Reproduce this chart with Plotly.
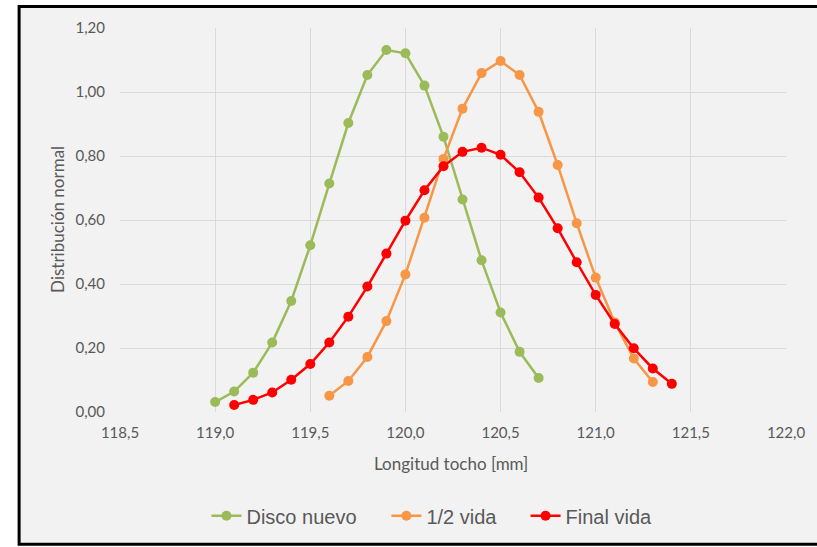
import plotly.graph_objects as go

# Data
x_nuevo = [119.0, 119.1, 119.2, 119.3, 119.4, 119.5, 119.6, 119.7, 119.8, 119.9,
           120.0, 120.1, 120.2, 120.3, 120.4, 120.5, 120.6, 120.7]
y_nuevo = [0.031, 0.064, 0.123, 0.217, 0.347, 0.521, 0.714, 0.903, 1.053, 1.131,
           1.121, 1.020, 0.860, 0.664, 0.474, 0.311, 0.188, 0.106]

x_media = [119.6, 119.7, 119.8, 119.9, 120.0, 120.1, 120.2, 120.3, 120.4, 120.5,
           120.6, 120.7, 120.8, 120.9, 121.0, 121.1, 121.2, 121.3]
y_media = [0.051, 0.097, 0.172, 0.284, 0.430, 0.607, 0.791, 0.948, 1.059, 1.097,
           1.053, 0.938, 0.772, 0.590, 0.420, 0.280, 0.167, 0.094]

x_final = [119.1, 119.2, 119.3, 119.4, 119.5, 119.6, 119.7, 119.8, 119.9, 120.0,
           120.1, 120.2, 120.3, 120.4, 120.5, 120.6, 120.7, 120.8, 120.9, 121.0,
           121.1, 121.2, 121.3, 121.4]
y_final = [0.022, 0.038, 0.061, 0.101, 0.150, 0.217, 0.298, 0.392, 0.495, 0.598,
           0.693, 0.768, 0.813, 0.826, 0.804, 0.749, 0.670, 0.574, 0.468, 0.366,
           0.275, 0.199, 0.136, 0.088]

series_names = ["Disco nuevo", "1/2 vida", "Final vida"]
series_colors = ["#9BBB59", "#F79646", "#FF0000"]
x_ticks = [118.5, 119.0, 119.5, 120.0, 120.5, 121.0, 121.5, 122.0]
y_ticks = [0, 0.2, 0.4, 0.6, 0.8, 1.0, 1.2]

x_title = "Longitud tocho [mm]"
y_title = "Distribución normal"

# layout helpers (pixel -> paper)
L, R, T, B = 120, 790, 28, 413
def px(xp):
    return (xp - L) / (R - L)
def py(yp):
    return (B - yp) / (B - T)

legend_ids = ["legend", "legend2", "legend3"]
legend_left = [207, 388, 528]

fig = go.Figure()
for name, xs, ys, col, lid in zip(series_names, [x_nuevo, x_media, x_final],
                                  [y_nuevo, y_media, y_final], series_colors, legend_ids):
    fig.add_trace(go.Scatter(x=xs, y=ys, name=name, mode="lines+markers",
                             line=dict(color=col, width=2.5),
                             marker=dict(color=col, size=10), legend=lid))

tick_font = dict(family="Lato", size=15, color="#595959")
title_font = dict(family="Lato", size=17, color="#595959")
legend_font = dict(family="Liberation Sans", size=20, color="#595959")

legends = {}
for lid, left in zip(legend_ids, legend_left):
    legends[lid] = dict(orientation="h", x=px(left), xanchor="left", y=py(517),
                        yanchor="middle", font=legend_font, bgcolor="rgba(0,0,0,0)",
                        borderwidth=0)

fig.update_layout(
    width=817, height=547,
    separators=", ",
    paper_bgcolor="white",
    plot_bgcolor="#F2F2F2",
    margin=dict(l=L, r=817 - R, t=T, b=547 - B),
    showlegend=True,
    xaxis=dict(range=[118.5, 122.0], tickvals=x_ticks,
               tickformat=".1f", showgrid=True, gridcolor="#D9D9D9", gridwidth=1,
               zeroline=False, showline=False, tickfont=tick_font, ticks="",
               ticklabelstandoff=10),
    yaxis=dict(range=[0, 1.2], tickvals=y_ticks,
               tickformat=".2f", showgrid=True, gridcolor="#D9D9D9", gridwidth=1,
               zeroline=False, showline=False, tickfont=tick_font, ticks="",
               ticklabelstandoff=14),
    shapes=[
        dict(type="rect", xref="paper", yref="paper",
             x0=px(18.5), x1=px(830), y0=py(545.5), y1=py(6.5),
             line=dict(color="black", width=3), fillcolor="#F2F2F2", layer="below"),
    ],
    annotations=[
        dict(text=x_title, xref="paper", yref="paper", x=px(453),
             y=py(465), xanchor="center", yanchor="middle", showarrow=False,
             font=title_font),
        dict(text=y_title, xref="paper", yref="paper", x=px(57),
             y=py(220), xanchor="center", yanchor="middle", showarrow=False,
             textangle=-90, font=title_font),
    ],
    **legends,
)

fig.write_html("out.html", config={"displayModeBar": False},
               post_script="document.body.style.margin='0px';")
